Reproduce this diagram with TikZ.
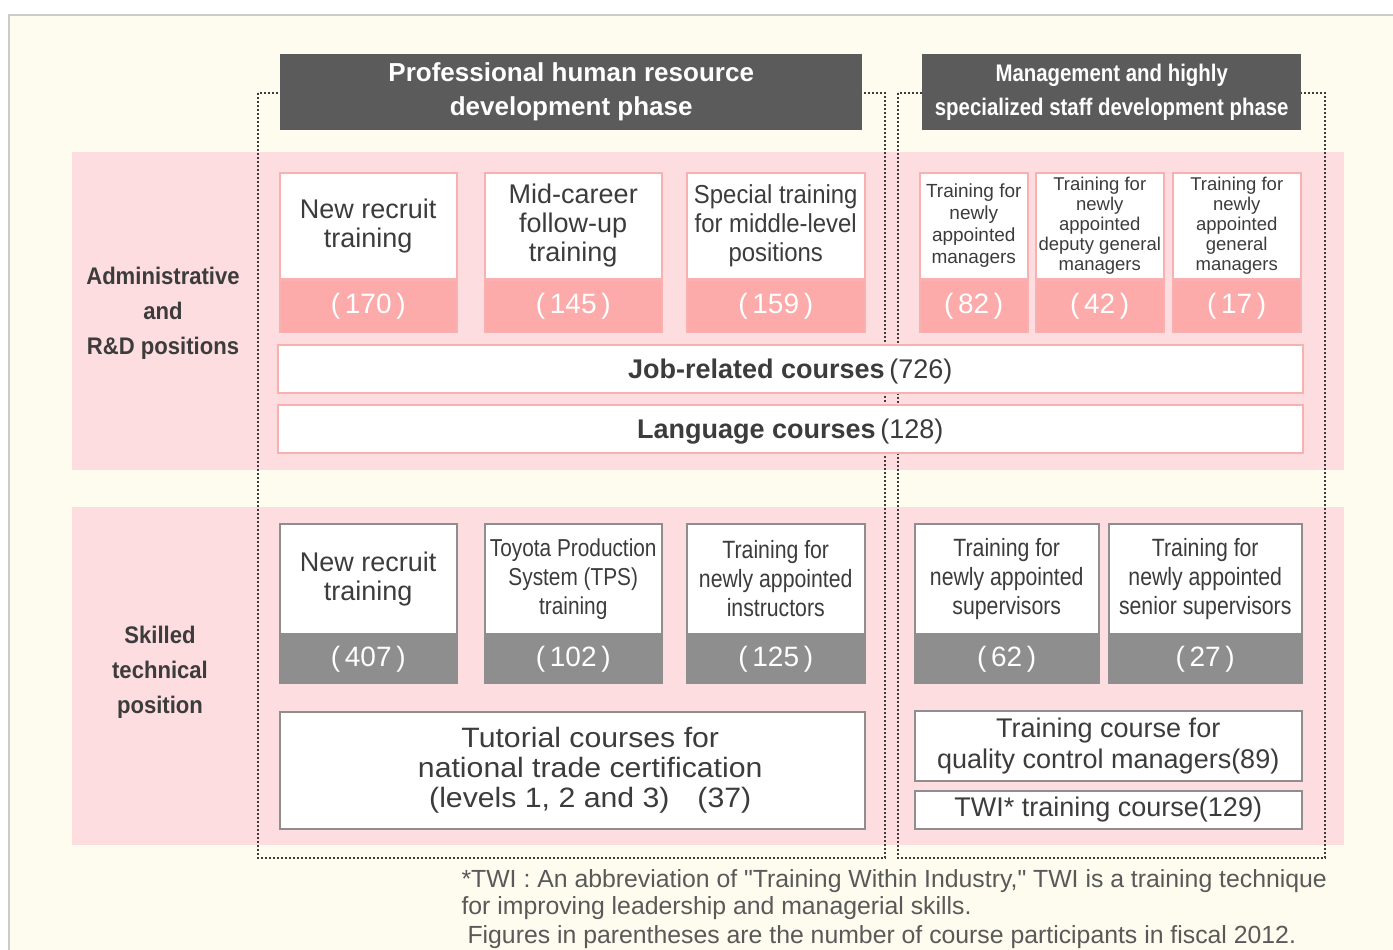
\documentclass[tikz,border=0pt]{standalone}
\usepackage{fontspec}
\setmainfont{Liberation Sans}
\newfontfamily\narrow[FakeStretch=0.85]{Liberation Sans}
\newfontfamily\semicond[FakeStretch=0.92]{Liberation Sans}
\newfontfamily\widened[FakeStretch=1.08]{Liberation Sans}
\usetikzlibrary{positioning}
\definecolor{cream}{HTML}{FEFCEE}
\definecolor{bandpink}{HTML}{FDDDE0}
\definecolor{numpink}{HTML}{FCAAAA}
\definecolor{linepink}{HTML}{F9B0B0}
\definecolor{headgray}{HTML}{5B5B5B}
\definecolor{numgray}{HTML}{8E8E8E}
\definecolor{ink}{HTML}{3C3C3C}
\newcommand{\fsz}[2]{\fontsize{#1}{#2}\selectfont}
\begin{document}
\begin{tikzpicture}[x=1pt,y=-1pt,
  pinkbox/.style={draw=linepink,line width=1.5pt,fill=white,text=ink,inner sep=0pt,align=center,anchor=north west},
  pinknum/.style={draw=linepink,line width=1.5pt,fill=numpink,text=white,inner sep=0pt,font=\fsz{28}{30}},
  graybox/.style={draw=numgray,line width=1.5pt,fill=white,text=ink,inner sep=0pt,align=center,anchor=north west},
  graynum/.style={draw=numgray,line width=1.5pt,fill=numgray,text=white,inner sep=0pt,font=\fsz{28}{30}},
  phasehead/.style={fill=headgray,text=white,inner sep=0pt,align=center,anchor=north west},
  phaseframe/.style={draw=ink,line width=1.5pt,dash pattern=on 2pt off 2pt},
  rowlabel/.style={text=ink,align=center,font=\semicond\bfseries\fsz{24}{35}},
  note/.style={text=ink!85,align=left,anchor=north west,font=\fsz{24.8}{26.5}}]
\useasboundingbox (0,0) rectangle (1393,950);
% background and bands
\fill[cream] (9,15) rectangle (1393,950);
\draw[black!20,line width=2.5pt] (9,950) -- (9,15) -- (1393,15);
\fill[bandpink] (72,152) rectangle (1344,470);
\fill[bandpink] (72,507) rectangle (1344,845);
% phase frames
\draw[phaseframe] (258,93) rectangle (885,858);
\draw[phaseframe] (898,93) rectangle (1325,858);
% phase headers
\node[phasehead,minimum width=582pt,minimum height=76pt,font=\bfseries\fsz{26}{34}] (prohead) at (280,54)
  {Professional human resource\\development phase};
\node[phasehead,minimum width=379pt,minimum height=76pt,font=\narrow\bfseries\fsz{24}{34}] (mgthead) at (922,54)
  {Management and highly\\specialized staff development phase};
% row labels
\node[rowlabel] (admin) at (163,313) {Administrative\\and\\R\&D positions};
\node[rowlabel] (skilled) at (160,672) {Skilled\\technical\\position};

% administrative and R&D
\node[pinkbox,minimum width=177pt,minimum height=106pt,font=\fsz{27}{29}] (arecruit) at (279,172) {New recruit\\training};
\node[pinknum,minimum width=177pt,minimum height=52pt,below=0pt of arecruit] (arecruitn) {(\,170\,)};
\node[pinkbox,minimum width=177pt,minimum height=106pt,font=\fsz{27}{29}] (midcareer) at (484,172) {Mid-career\\follow-up\\training};
\node[pinknum,minimum width=177pt,minimum height=52pt,below=0pt of midcareer] (midcareern) {(\,145\,)};
\node[pinkbox,minimum width=178pt,minimum height=106pt,font=\semicond\fsz{26}{29}] (middle) at (686,172) {Special training\\for middle-level\\positions};
\node[pinknum,minimum width=178pt,minimum height=52pt,below=0pt of middle] (middlen) {(\,159\,)};
\node[pinkbox,minimum width=108pt,minimum height=106pt,font=\fsz{19}{22}] (manager) at (919,172) {Training for\\newly\\appointed\\managers};
\node[pinknum,minimum width=108pt,minimum height=52pt,below=0pt of manager] (managern) {(\,82\,)};
\node[pinkbox,minimum width=128pt,minimum height=106pt,font=\fsz{18.5}{20}] (deputy) at (1035,172) {Training for\\newly\\appointed\\deputy general\\managers};
\node[pinknum,minimum width=128pt,minimum height=52pt,below=0pt of deputy] (deputyn) {(\,42\,)};
\node[pinkbox,minimum width=128pt,minimum height=106pt,font=\fsz{18.5}{20}] (general) at (1172,172) {Training for\\newly\\appointed\\general\\managers};
\node[pinknum,minimum width=128pt,minimum height=52pt,below=0pt of general] (generaln) {(\,17\,)};
\node[pinkbox,minimum width=1025pt,minimum height=48pt,text depth=1pt,font=\fsz{27}{30}] (jobcourse) at (277,344) {\textbf{Job-related courses}\,(726)};
\node[pinkbox,minimum width=1025pt,minimum height=48pt,text depth=1pt,font=\fsz{27}{30}] (langcourse) at (277,404) {\textbf{Language courses}\,(128)};

% skilled technical
\node[graybox,minimum width=177pt,minimum height=110pt,font=\fsz{27}{29}] (srecruit) at (279,523) {New recruit\\training};
\node[graynum,minimum width=177pt,minimum height=48pt,below=0pt of srecruit] (srecruitn) {(\,407\,)};
\node[graybox,minimum width=177pt,minimum height=110pt,font=\narrow\fsz{24.5}{29}] (tps) at (484,523) {Toyota Production\\System (TPS)\\training};
\node[graynum,minimum width=177pt,minimum height=48pt,below=0pt of tps] (tpsn) {(\,102\,)};
\node[graybox,minimum width=178pt,minimum height=110pt,font=\narrow\fsz{25}{29}] (instructor) at (686,523) {Training for\\newly appointed\\instructors};
\node[graynum,minimum width=178pt,minimum height=48pt,below=0pt of instructor] (instructorn) {(\,125\,)};
\node[graybox,minimum width=184pt,minimum height=110pt,font=\narrow\fsz{25}{29}] (supervisor) at (914,523) {Training for\\newly appointed\\supervisors};
\node[graynum,minimum width=184pt,minimum height=48pt,below=0pt of supervisor] (supervisorn) {(\,62\,)};
\node[graybox,minimum width=193pt,minimum height=110pt,font=\narrow\fsz{25}{29}] (senior) at (1108,523) {Training for\\newly appointed\\senior supervisors};
\node[graynum,minimum width=193pt,minimum height=48pt,below=0pt of senior] (seniorn) {(\,27\,)};
\node[graybox,minimum width=585pt,minimum height=117pt,font=\widened\fsz{28}{30}] (tutorial) at (279,711) {\hspace*{36pt}Tutorial courses for\\\hspace*{36pt}national trade certification\\\hspace*{36pt}(levels 1, 2 and 3)\quad(37)};
\node[graybox,minimum width=387pt,minimum height=70pt,font=\fsz{27}{31}] (qcourse) at (914,710) {Training course for\\quality control managers(89)};
\node[graybox,minimum width=387pt,minimum height=38pt,font=\fsz{27}{30}] (twicourse) at (914,790) {TWI* training course(129)};

% notes
\node[note] (twinote) at (458,866) {*TWI : An abbreviation of \textquotedbl Training Within Industry,\textquotedbl{} TWI is a training technique\\for improving leadership and managerial skills.};
\node[note] (fignote) at (464,922) {Figures in parentheses are the number of course participants in fiscal 2012.};
\end{tikzpicture}
\end{document}
